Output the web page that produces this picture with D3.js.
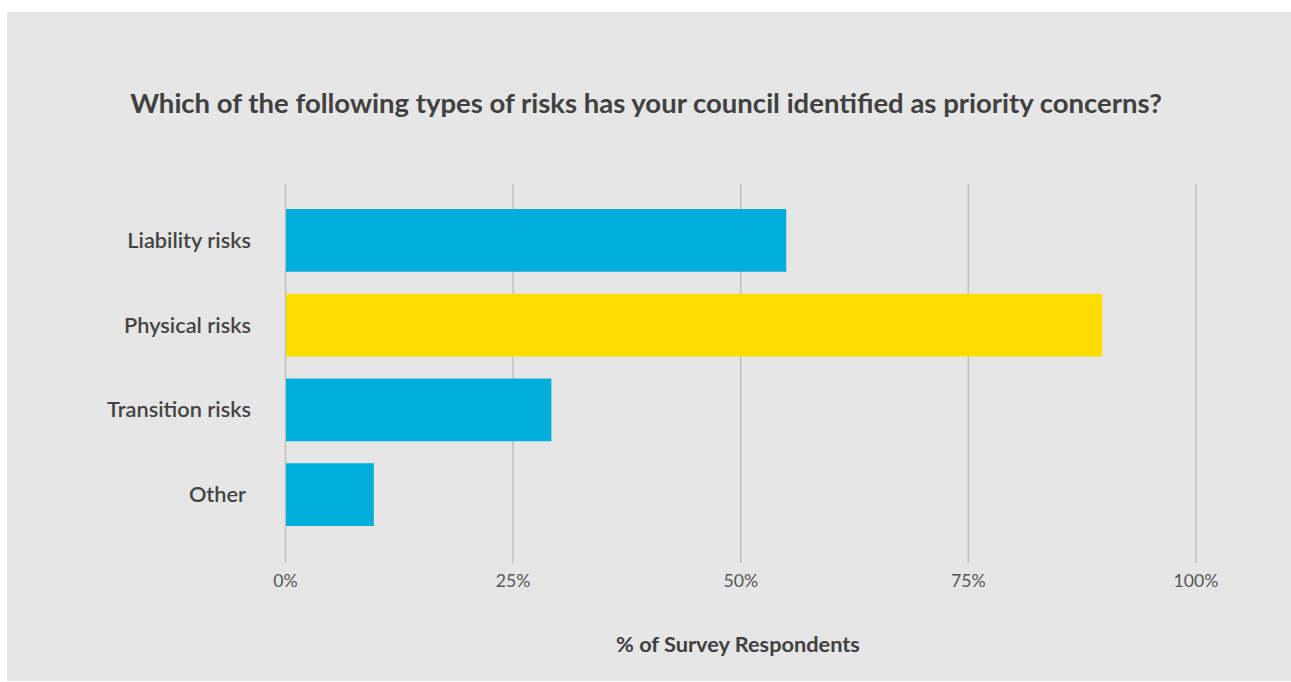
<!DOCTYPE html>
<html><head><meta charset="utf-8">
<script src="https://cdn.jsdelivr.net/npm/d3@7"></script>
<style>
html,body{margin:0;padding:0;background:#fff;}
svg{display:block;font-family:Lato,"Open Sans",sans-serif;}
</style></head>
<body>
<svg id="chart" width="1291" height="682"></svg>
<script>
const categories = ["Liability risks", "Physical risks", "Transition risks", "Other "];
const values = [55, 89.7, 29.2, 9.7];
const barColors = ["#00AEDB", "#FFDD00", "#00AEDB", "#00AEDB"];
const tickValues = [0, 25, 50, 75, 100];
const tickLabels = ["0%", "25%", "50%", "75%", "100%"];
const title = "Which of the following types of risks has your council identified as priority concerns?";
const xTitle = "% of Survey Respondents";

const svg = d3.select("#chart");
svg.append("rect").attr("x", 7).attr("y", 12).attr("width", 1284).attr("height", 669).attr("fill", "#e6e6e6");

const x = d3.scaleLinear().domain([0, 100]).range([285.5, 1196]);
const y = d3.scaleBand().domain(categories).range([198, 537]).paddingInner(0.26).paddingOuter(0.13);

// grid
svg.append("g").selectAll("line").data(tickValues).join("line")
  .attr("x1", d => x(d)).attr("x2", d => x(d))
  .attr("y1", 184).attr("y2", 563)
  .attr("stroke", "#c0c0c0").attr("stroke-width", 1.5);

// bars
svg.append("g").selectAll("rect").data(values).join("rect")
  .attr("x", x(0) + 0.5)
  .attr("y", (d, i) => y(categories[i]))
  .attr("width", d => x(d) - x(0) - 0.5)
  .attr("height", y.bandwidth())
  .attr("fill", (d, i) => barColors[i]);

// category labels
const labels = svg.append("g").selectAll("text").data(categories).join("text")
  .attr("x", 251).attr("y", d => y(d) + y.bandwidth() / 2)
  .attr("dy", "0.35em").attr("text-anchor", "end")
  .attr("font-size", 18).attr("font-weight", 600).attr("fill", "#444")
  .style("white-space", "pre")
  .text(d => d);
const lw = labels.nodes()[2].getComputedTextLength();
labels.attr("font-size", 18 * 144 / lw);

// x tick labels
const ticks = svg.append("g").selectAll("text").data(tickValues).join("text")
  .attr("x", d => x(d)).attr("y", 587)
  .attr("text-anchor", "middle")
  .attr("font-size", 17).attr("font-weight", 400).attr("fill", "#555")
  .text((d, i) => tickLabels[i]);
const tw = ticks.nodes()[4].getComputedTextLength();
ticks.attr("font-size", 17 * 45 / tw);

// title
const t = svg.append("text").attr("x", 646).attr("y", 113).attr("text-anchor", "middle")
  .attr("font-size", 23).attr("font-weight", 700).attr("fill", "#404040").text(title);
let w = t.node().getComputedTextLength();
t.attr("font-size", 23 * 1032 / w);

const xt = svg.append("text").attr("x", 738).attr("y", 652).attr("text-anchor", "middle")
  .attr("font-size", 18).attr("font-weight", 700).attr("fill", "#404040").text(xTitle);
w = xt.node().getComputedTextLength();
xt.attr("font-size", 18 * 244 / w);
</script>
</body></html>
